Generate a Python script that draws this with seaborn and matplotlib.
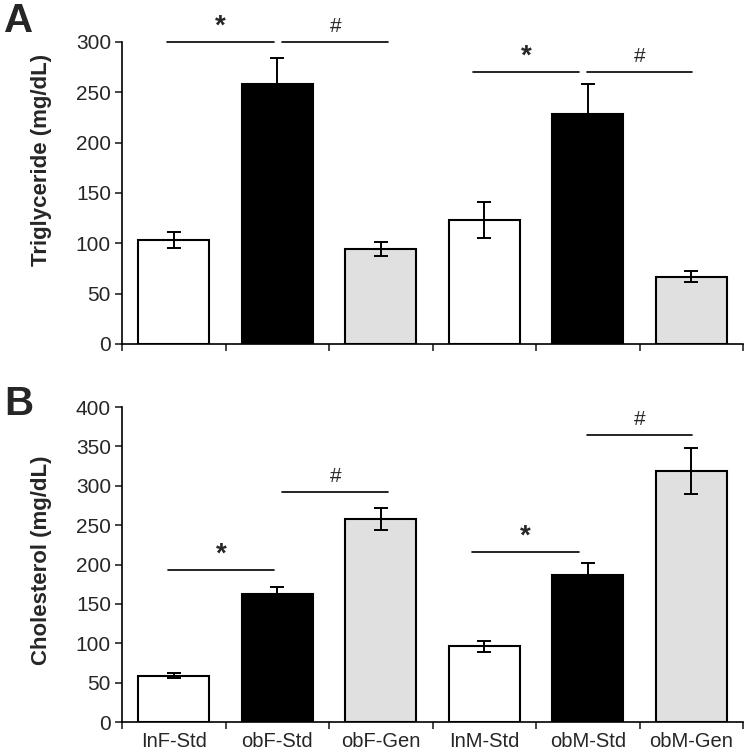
import numpy as np
import pandas as pd
import matplotlib
matplotlib.use("Agg")
import matplotlib.pyplot as plt
import seaborn as sns

# groups and values
groups = ["lnF-Std", "obF-Std", "obF-Gen", "lnM-Std", "obM-Std", "obM-Gen"]
tick_labels = ["InF-Std", "obF-Std", "obF-Gen", "InM-Std", "obM-Std", "obM-Gen"]
bar_colors = ["#ffffff", "#000000", "#e0e0e0", "#ffffff", "#000000", "#e0e0e0"]

tg_mean = [103, 258, 94, 123, 228, 67]
tg_err = [8, 26, 7, 18, 30, 5]

chol_mean = [59, 163, 258, 96, 187, 319]
chol_err = [3, 9, 14, 7, 15, 29]

# significance bars: (x start, x end, y, symbol)
tg_sig = [(-0.07, 0.97, 300, "*"), (1.05, 2.07, 300, "#"),
          (2.89, 3.92, 270, "*"), (3.99, 5.01, 270, "#")]
chol_sig = [(-0.06, 0.97, 193, "*"), (1.05, 2.07, 292, "#"),
            (2.88, 3.92, 216, "*"), (3.99, 5.01, 364, "#")]

sns.set_style("white")
plt.rcParams["font.family"] = ["Liberation Sans", "DejaVu Sans"]

fig = plt.figure(figsize=(7.5, 7.55), dpi=100)
ax1 = fig.add_axes([0.1627, 0.5444, 0.828, 0.40])
ax2 = fig.add_axes([0.1627, 0.0437, 0.828, 0.4172])


def draw_panel(ax, means, errs, sig, ymax, ystep, ylabel, label_y, show_labels):
    df = pd.DataFrame({"group": groups, "value": means})
    sns.barplot(data=df, x="group", y="value", hue="group", palette=bar_colors,
                legend=False, edgecolor="black", linewidth=1.5, width=0.69,
                ax=ax, errorbar=None)
    ax.errorbar(range(len(groups)), means, yerr=errs, fmt="none", ecolor="black",
                elinewidth=1.4, capsize=5, capthick=1.4)
    for x0, x1, y, sym in sig:
        ax.plot([x0, x1], [y, y], color="black", lw=1.2, clip_on=False)
        if sym == "*":
            ax.text((x0 + x1) / 2, y + ymax * 0.008, sym, ha="center", va="bottom",
                    fontsize=20, fontweight="bold")
        else:
            ax.text((x0 + x1) / 2, y + ymax * 0.02, sym, ha="center", va="bottom",
                    fontsize=15)
    ax.set_xlim(-0.5, 5.5)
    ax.set_ylim(0, ymax)
    ax.set_yticks(np.arange(0, ymax + 1, ystep))
    ax.set_xticks(np.arange(-0.5, 6, 1))
    ax.set_xticklabels([])
    ax.set_xticks(range(len(groups)), minor=True)
    if show_labels:
        ax.set_xticklabels(tick_labels, minor=True, fontsize=14.5)
    else:
        ax.set_xticklabels([], minor=True)
    ax.tick_params(axis="x", which="major", direction="out", length=5, width=1.2,
                   bottom=True)
    ax.tick_params(axis="x", which="minor", length=0, pad=7)
    ax.tick_params(axis="y", direction="out", length=5, width=1.2, left=True,
                   labelsize=15, pad=3)
    ax.set_xlabel("")
    ax.set_ylabel(ylabel, fontsize=16, fontweight="bold")
    ax.yaxis.set_label_coords(-0.113, label_y)
    for s in ["top", "right"]:
        ax.spines[s].set_visible(False)
    for s in ["left", "bottom"]:
        ax.spines[s].set_color("black")
        ax.spines[s].set_linewidth(1.2)


draw_panel(ax1, tg_mean, tg_err, tg_sig, 300, 50, "Triglyceride (mg/dL)", 0.61, False)
draw_panel(ax2, chol_mean, chol_err, chol_sig, 400, 50, "Cholesterol (mg/dL)", 0.514, True)

fig.text(0.025, 0.972, "A", fontsize=29, fontweight="bold", ha="center", va="center")
fig.text(0.025, 0.465, "B", fontsize=29, fontweight="bold", ha="center", va="center")

fig.savefig("out.png", dpi=100)
